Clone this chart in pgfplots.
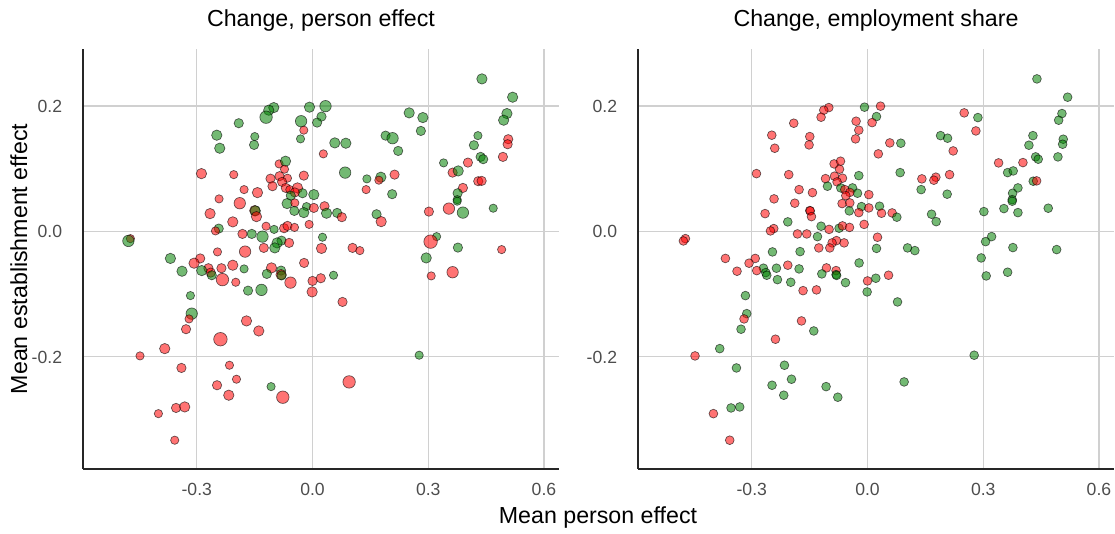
\documentclass[border=0pt]{standalone}
\usepackage{pgfplots}
\usepackage{pgfplotstable}
\pgfplotsset{compat=1.18}
\usepackage{fontspec}
\setmainfont{Liberation Sans}
\definecolor{gridc}{RGB}{208,208,208}
\definecolor{tickc}{RGB}{77,77,77}
\definecolor{pred}{RGB}{255,0,0}
\definecolor{pgreen}{RGB}{0,128,0}
\newcommand{\titlefont}{\fontsize{17.4}{20}\selectfont}
\newcommand{\tickfont}{\fontsize{13.2}{15}\selectfont}

% x y s(diameter px, panel 1) c1 (panel 1: 1 green, 0 red) c2 (panel 2)
\pgfplotstableread{
x y s c1 c2
-0.0078 0.1982 10 1 1
0.0337 0.1998 11 1 0
-0.1004 0.1975 10 1 0
-0.1134 0.1934 10 1 0
-0.1204 0.1822 12 1 0
-0.1912 0.1726 9 1 0
0.0233 0.1832 9 1 1
-0.0296 0.1758 11 1 0
0.0119 0.1736 9 1 0
-0.0226 0.1615 8 0 0
-0.0311 0.1476 8 1 0
-0.2482 0.1535 10 1 0
-0.1497 0.1513 8 1 0
-0.2405 0.1327 10 1 0
-0.1515 0.1380 9 1 0
0.0280 0.1237 8 0 0
-0.0866 0.1077 8 0 0
-0.0700 0.1120 10 1 0
-0.0726 0.0992 8 0 0
-0.2879 0.0922 10 0 0
-0.2042 0.0906 8 0 0
-0.0226 0.0890 9 0 1
-0.1089 0.0842 9 0 0
-0.0856 0.0881 9 0 0
-0.0649 0.0849 8 0 0
-0.0789 0.0790 9 0 0
-0.1038 0.0721 9 0 1
-0.0693 0.0694 9 0 1
-0.0589 0.0667 8 0 0
-0.0389 0.0694 10 0 1
-0.1774 0.0667 8 0 0
-0.1427 0.0619 10 0 0
-0.0259 0.0609 9 1 1
-0.0459 0.0622 9 0 0
-0.0563 0.0571 9 1 0
0.0034 0.0587 10 1 0
-0.2423 0.0519 8 0 0
-0.1886 0.0450 11 0 0
-0.0659 0.0444 10 1 0
-0.0459 0.0455 8 0 0
-0.0156 0.0396 8 1 1
0.0034 0.0375 9 0 0
0.0311 0.0402 9 0 1
-0.1497 0.0332 10 0 0
-0.1484 0.0327 10 1 0
-0.1453 0.0236 10 0 0
-0.2656 0.0284 10 0 0
-0.0472 0.0327 9 1 1
-0.0226 0.0300 10 1 0
0.0363 0.0290 10 1 0
0.0638 0.0295 9 1 0
-0.2067 0.0152 10 0 1
-0.1204 0.0083 8 0 1
-0.0996 0.0032 8 1 0
-0.0737 0.0051 9 0 1
-0.0649 0.0088 9 0 0
-0.0467 0.0064 8 0 0
-0.0088 0.0112 8 0 0
-0.2431 0.0045 9 1 0
-0.2516 0.0008 8 0 0
-0.1816 -0.0040 9 0 0
-0.1575 -0.0040 9 1 0
-0.1297 -0.0083 11 1 1
0.0259 -0.0093 8 1 0
-0.4721 -0.0115 8 0 0
-0.4773 -0.0152 11 1 0
-0.0804 -0.0147 9 1 0
-0.0918 -0.0183 10 1 0
-0.0607 -0.0183 9 0 0
-0.0978 -0.0263 10 1 0
-0.1263 -0.0263 9 0 0
-0.2464 -0.0327 8 0 1
-0.1748 -0.0322 11 0 1
0.0233 -0.0271 10 0 1
-0.3684 -0.0431 10 1 0
-0.2911 -0.0431 9 0 0
-0.3071 -0.0507 10 0 0
-0.3383 -0.0635 10 1 0
-0.2698 -0.0587 9 0 1
-0.2638 -0.0657 9 0 1
-0.2612 -0.0699 9 1 1
-0.2872 -0.0625 10 1 0
-0.2361 -0.0587 9 0 1
-0.2067 -0.0539 10 0 0
-0.1774 -0.0598 8 1 1
-0.2335 -0.0769 12 0 1
-0.1990 -0.0811 8 0 1
-0.1064 -0.0582 10 0 0
-0.1185 -0.0678 9 1 1
-0.0815 -0.0625 9 1 0
-0.0815 -0.0689 10 0 1
-0.0802 -0.0702 9 1 1
-0.0571 -0.0817 11 0 1
-0.0218 -0.0503 9 0 1
0.0215 -0.0747 9 0 1
0.0000 -0.0790 9 0 0
-0.0010 -0.0965 10 0 1
-0.1671 -0.0945 9 1 0
-0.1323 -0.0933 11 1 0
-0.3165 -0.1024 8 1 1
-0.3131 -0.1312 11 1 1
-0.3201 -0.1396 8 0 0
-0.3279 -0.1560 9 0 1
-0.1712 -0.1428 10 0 0
-0.1393 -0.1588 10 0 1
-0.2387 -0.1720 13 0 0
-0.3831 -0.1870 10 0 1
-0.4472 -0.1986 8 0 0
-0.3398 -0.2178 9 0 1
-0.2153 -0.2135 8 0 1
-0.1971 -0.2358 8 0 1
-0.2475 -0.2454 9 0 1
-0.2171 -0.2613 10 0 1
-0.1074 -0.2476 8 1 1
-0.0770 -0.2645 12 0 1
-0.3538 -0.2816 9 0 1
-0.3313 -0.2800 10 0 1
-0.3995 -0.2907 8 0 0
-0.3572 -0.3331 8 0 0
0.2506 0.1891 10 1 0
0.2861 0.1816 10 1 1
0.2809 0.1603 9 1 0
0.4392 0.2433 10 1 1
0.5188 0.2141 10 1 1
0.5040 0.1880 10 1 1
0.4955 0.1774 10 1 1
0.0578 0.1412 10 1 0
0.0864 0.1407 10 1 1
0.1894 0.1528 9 1 1
0.2075 0.1487 11 1 1
0.2221 0.1284 9 1 0
0.4288 0.1528 8 1 1
0.4184 0.1375 9 1 1
0.5074 0.1471 9 0 1
0.5058 0.1391 9 0 1
0.4358 0.1189 9 1 1
0.4425 0.1152 9 1 1
0.4936 0.1189 9 0 1
0.3398 0.1093 8 1 0
0.4029 0.1098 9 0 0
0.0846 0.0938 11 1 1
0.1409 0.0838 8 1 0
0.1772 0.0865 10 1 0
0.1720 0.0817 8 0 0
0.2127 0.0906 9 0 0
0.3632 0.0938 9 0 1
0.3777 0.0965 10 1 1
0.4296 0.0801 9 0 1
0.4384 0.0806 9 0 0
0.1390 0.0667 8 0 1
0.2065 0.0594 9 1 1
0.3899 0.0694 9 0 1
0.3761 0.0609 9 1 1
0.3751 0.0507 8 1 1
0.3751 0.0482 8 1 1
0.0760 0.0227 9 0 1
0.1660 0.0274 9 1 1
0.1780 0.0156 10 0 1
0.3017 0.0316 9 0 1
0.3536 0.0364 11 0 1
0.3899 0.0300 11 1 1
0.4685 0.0370 8 1 1
0.1038 -0.0263 9 0 1
0.1227 -0.0306 8 0 1
0.3217 -0.0083 8 1 1
0.3061 -0.0163 13 0 1
0.3769 -0.0258 9 1 1
0.4903 -0.0290 8 0 1
0.2947 -0.0423 10 1 1
0.3077 -0.0710 8 0 1
0.3632 -0.0651 11 0 1
0.0545 -0.0699 8 1 0
0.0778 -0.1125 9 0 1
0.2765 -0.1975 8 1 1
0.0949 -0.2401 12 0 1
}\pts

\pgfplotsset{
  panel/.style={
    scale only axis, width=357pt, height=315pt,
    xmin=-0.595, xmax=0.639, ymin=-0.379, ymax=0.291,
    axis x line*=bottom, axis y line*=left,
    axis line style={black!85, line width=0.8pt, -},
    xtick={-0.3,0,0.3,0.6}, ytick={-0.2,0,0.2},
    xticklabels={-0.3,0.0,0.3,0.6}, yticklabels={-0.2,0.0,0.2},
    grid=major, major grid style={draw=gridc, line width=1.05pt},
    tick style={draw=none},
    ticklabel style={font=\tickfont, text=tickc},
    xticklabel style={anchor=base, inner sep=0pt, yshift=-20pt},
    yticklabel style={anchor=base east, inner sep=0pt, xshift=-15.5pt, yshift=-4.7pt},
    colormap={rg}{rgb255(0cm)=(255,0,0); rgb255(1cm)=(0,128,0)},
    point meta min=0, point meta max=1,
  },
  pts/.style={scatter, only marks, mark=*, point meta=explicit,
    scatter/use mapped color={draw=black, fill=mapped color},
    mark options={fill opacity=0.55, draw opacity=0.6, line width=0.5pt}},
}

\begin{document}
\begin{tikzpicture}
\path[use as bounding box] (0,0) rectangle (836.25pt,400.5pt);
\begin{axis}[panel, at={(62.25pt,48.75pt)}, anchor=south west]
\addplot[pts,
  visualization depends on={0.39*\thisrow{s} \as \ms},
  scatter/@pre marker code/.append style={/tikz/mark size=\ms pt}]
  table[x=x, y=y, meta=c1] {\pts};
\end{axis}
\begin{axis}[panel, at={(478.5pt,48.75pt)}, anchor=south west]
\addplot[pts, mark size=3.3pt] table[x=x, y=y, meta=c2] {\pts};
\end{axis}
\node[anchor=base, font=\titlefont] at (240.75pt,380.25pt) {Change, person effect};
\node[anchor=base, font=\titlefont] at (657pt,380.25pt) {Change, employment share};
\node[anchor=base, font=\titlefont] at (448.5pt,7.5pt) {Mean person effect};
\node[anchor=base, font=\titlefont, rotate=90] at (20.25pt,206.25pt) {Mean establishment effect};
\end{tikzpicture}
\end{document}
